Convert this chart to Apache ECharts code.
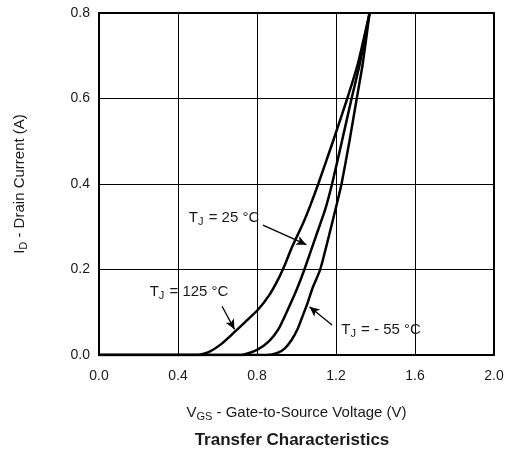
<!DOCTYPE html>
<html><head><meta charset="utf-8">
<script src="https://cdn.jsdelivr.net/npm/echarts@6/dist/echarts.min.js"></script>
<style>html,body{margin:0;padding:0;background:#fff}#c{width:510px;height:454px}</style>
</head><body><div id="c"></div>
<script>
var xTicks = [0.0, 0.4, 0.8, 1.2, 1.6, 2.0];
var yTicks = [0.0, 0.2, 0.4, 0.6, 0.8];
var curve125 = [[0,0],[0.50,0],[0.56,0.008],[0.62,0.026],[0.68,0.051],[0.74,0.077],[0.807,0.107],[0.862,0.14],[0.905,0.175],[0.94,0.21],[0.975,0.25],[1.035,0.31],[1.07,0.35],[1.11,0.40],[1.185,0.50],[1.257,0.60],[1.31,0.68],[1.37,0.80]];
var curve25 = [[0,0],[0.72,0],[0.80,0.012],[0.86,0.032],[0.908,0.06],[0.95,0.10],[1.0,0.152],[1.04,0.20],[1.10,0.28],[1.145,0.34],[1.18,0.40],[1.23,0.50],[1.279,0.60],[1.32,0.68],[1.37,0.80]];
var curveM55 = [[0,0],[0.85,0],[0.90,0.004],[0.94,0.015],[0.975,0.035],[1.005,0.06],[1.03,0.09],[1.055,0.12],[1.08,0.155],[1.12,0.20],[1.165,0.28],[1.205,0.355],[1.228,0.40],[1.268,0.50],[1.305,0.60],[1.335,0.68],[1.37,0.80]];
var labels = [
  {text:'= 25 °C', coord:[0.633,0.32]},
  {text:'= 125 °C', coord:[0.456,0.147]},
  {text:'= - 55 °C', coord:[1.428,0.058]}
];
var arrows = [
  [[0.830,0.304],[1.050,0.258]],
  [[0.623,0.114],[0.686,0.060]],
  [[1.180,0.070],[1.066,0.113]]
];
var chart = echarts.init(document.getElementById('c'));
var txt = '#1a1a1a';
var FF = 'Liberation Sans';
var rich = {
  t:{fontSize:15,color:txt,fontFamily:FF},
  s:{fontSize:11,color:txt,fontFamily:FF,padding:[8,1,0,0]}
};
function mkSeries(d){
  return {type:'line',data:d,showSymbol:false,smooth:0.2,lineStyle:{color:'#000',width:2.5},silent:true,animation:false};
}
var s0 = mkSeries(curve125);
s0.markPoint = {symbol:'circle',symbolSize:0,silent:true,animation:false,
  data: labels.map(function(l){return {coord:l.coord,label:{show:true,position:'inside',formatter:'{t|T}{s|J}{t| '+l.text+'}',rich:rich}};})};
s0.markLine = {silent:true,animation:false,symbol:['none','arrow'],symbolSize:[7,10],
  lineStyle:{color:'#000',width:1.3,type:'solid'},label:{show:false},
  data: arrows.map(function(a){return [{coord:a[0]},{coord:a[1]}];})};
var nameRich = {t:{fontSize:15,color:txt,fontFamily:FF},s:{fontSize:11,color:txt,fontFamily:FF,padding:[7,0,0,0]}};
chart.setOption({
  animation:false,
  grid:{left:99,right:16,top:13,bottom:99,show:true,borderColor:'#000',borderWidth:2,backgroundColor:'transparent'},
  title:{text:'Transfer Characteristics',left:287,textAlign:'center',top:427,textStyle:{fontSize:17,fontWeight:'bold',color:txt,fontFamily:FF}},
  xAxis:{type:'value',min:0,max:2.0,interval:0.4,
    name:'{t|V}{s|GS}{t| - Gate-to-Source Voltage (V)}',nameLocation:'middle',nameGap:49,
    nameTextStyle:{rich:nameRich},
    axisLine:{show:true,lineStyle:{color:'#000',width:2}},axisTick:{show:false},
    axisLabel:{margin:14,fontSize:14,color:txt,fontFamily:FF,formatter:function(v){return v.toFixed(1);}},
    splitLine:{show:true,lineStyle:{color:'#000',width:1}}},
  yAxis:{type:'value',min:0,max:0.8,interval:0.2,
    name:'{t|I}{s|D}{t| - Drain Current (A)}',nameLocation:'middle',nameGap:70,
    nameTextStyle:{rich:nameRich},
    axisLine:{show:true,lineStyle:{color:'#000',width:2}},axisTick:{show:false},
    axisLabel:{margin:9,fontSize:14,color:txt,fontFamily:FF,formatter:function(v){return v.toFixed(1);}},
    splitLine:{show:true,lineStyle:{color:'#000',width:1}}},
  series:[s0, mkSeries(curve25), mkSeries(curveM55)]
});
</script></body></html>
